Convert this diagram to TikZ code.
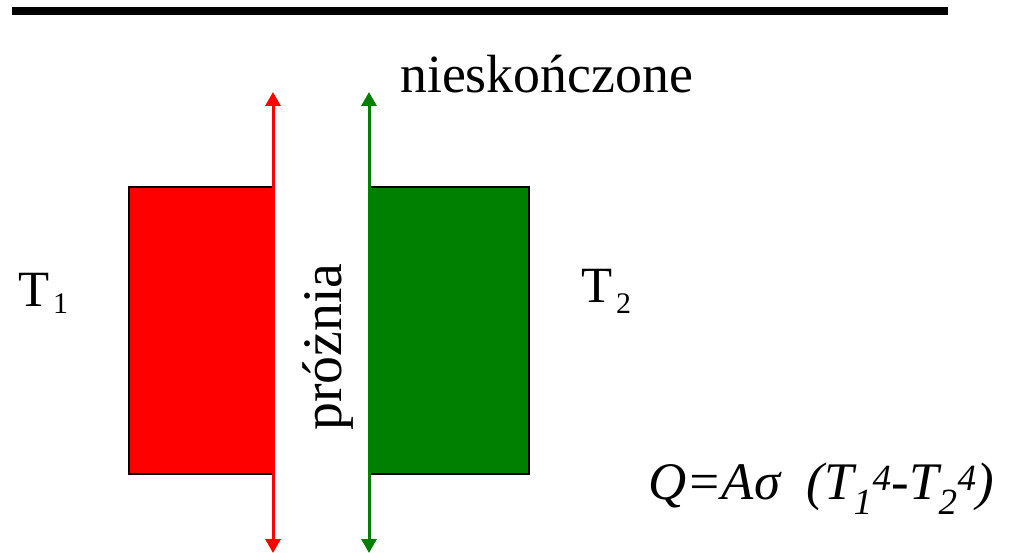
\documentclass[tikz,border=0pt]{standalone}
\usepackage{fontspec}
\setmainfont{Liberation Serif}
\usetikzlibrary{arrows.meta}

\begin{document}
\begin{tikzpicture}[x=1bp, y=-1bp, line join=miter,
    txt/.style={font=\fontsize{54}{60}\selectfont, inner sep=0pt, anchor=base west},
    sub/.style={font=\fontsize{30}{32}\selectfont, inner sep=0pt, anchor=base west},
    beam/.style={line width=3bp, {Triangle[width=15bp,length=14bp]}-{Triangle[width=15bp,length=14bp]}}]
  \useasboundingbox (0,0) rectangle (1009,553);
  % header bar
  \draw[line width=8bp] (12,11) -- (948,11);
  % the two plates
  \draw[line width=2bp, fill=red] (129,187) rectangle (273,474);
  \draw[line width=2bp, fill=green!50!black] (369,187) rectangle (529,474);
  % infinite extent of the plate faces
  \coordinate (hotTop) at (273,92);
  \coordinate (hotBot) at (273,553);
  \coordinate (coldTop) at (369,92);
  \coordinate (coldBot) at (369,553);
  \draw[beam, red] (hotBot) -- (hotTop);
  \draw[beam, green!50!black] (coldBot) -- (coldTop);
  % labels
  \node[txt] (inf) at (400,93) {nieskończone};
  \node[txt, rotate=90, font=\fontsize{56}{60}\selectfont] (vac) at (341,431) {próżnia};
  \node[txt, font=\fontsize{51}{60}\selectfont] (tA) at (18,307) {T};
  \node[sub] (tAi) at (53,314) {1};
  \node[txt, font=\fontsize{51}{60}\selectfont] (tB) at (581,303) {T};
  \node[sub] (tBi) at (616,314) {2};
  \node[txt, font=\fontsize{53}{60}\selectfont] (law) at (648,499) {\itshape Q=Aσ\ \ (T\textsubscript{1}\textsuperscript{4}-T\textsubscript{2}\textsuperscript{4})};
\end{tikzpicture}
\end{document}
